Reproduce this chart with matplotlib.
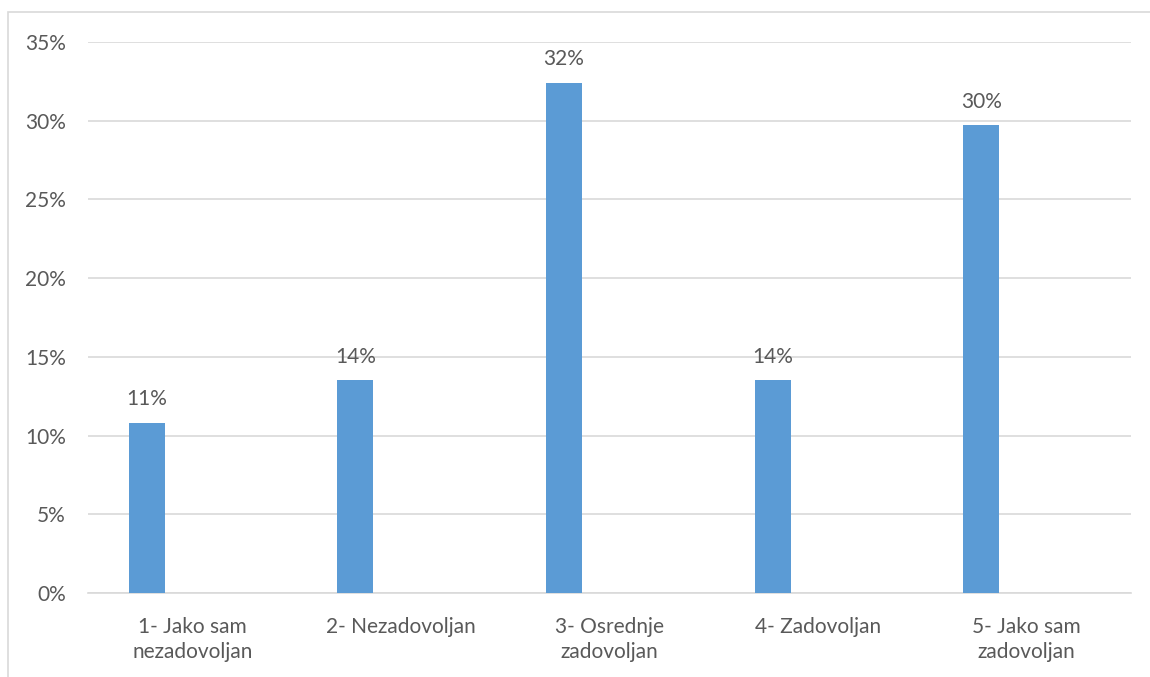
import matplotlib.pyplot as plt
from matplotlib.patches import Rectangle
from matplotlib.ticker import FuncFormatter

categories = ['1- Jako sam\nnezadovoljan', '2- Nezadovoljan', '3- Osrednje\nzadovoljan',
              '4- Zadovoljan', '5- Jako sam\nzadovoljan']
values = [10.8, 13.5, 32.4, 13.5, 29.7]
value_labels = ['11%', '14%', '32%', '14%', '30%']

plt.rcParams['font.family'] = ['Lato', 'DejaVu Sans']
text_col = '#595959'

fig = plt.figure(figsize=(11.5, 6.77), dpi=100)
# light frame around chart area (cut off at right/bottom in the original)
fig.patches.append(Rectangle((8 / 1150, -0.1), 1.2, 1.1 - 12 / 677, transform=fig.transFigure,
                             fill=False, edgecolor='#d9d9d9', linewidth=1.2))
ax = fig.add_axes([88 / 1150, 1 - 593 / 677, (1131 - 88) / 1150, (593 - 42) / 677])

x = list(range(len(categories)))
xpos = [i - 0.218 for i in x]
bars = ax.bar(xpos, values, width=0.172, color='#5b9bd5', zorder=3)
for b, lab in zip(bars, value_labels):
    ax.annotate(lab, (b.get_x() + b.get_width() / 2, b.get_height()), xytext=(0, 10),
                textcoords='offset points', ha='center', va='bottom', fontsize=15, color=text_col)

ax.set_xlim(-0.5, 4.5)
ax.set_ylim(0, 35)
ax.set_yticks(range(0, 36, 5))
ax.yaxis.set_major_formatter(FuncFormatter(lambda v, p: f'{int(v)}%'))
ax.set_xticks(x)
ax.set_xticklabels(categories, linespacing=1.35)
ax.grid(axis='y', color='#d9d9d9', linewidth=1.2, zorder=0)
for s in ['top', 'right', 'left']:
    ax.spines[s].set_visible(False)
ax.spines['bottom'].set_color('#d9d9d9')
ax.spines['bottom'].set_linewidth(1.2)
ax.tick_params(length=0, labelsize=15, colors=text_col)
ax.tick_params(axis='y', pad=16)
ax.tick_params(axis='x', pad=17)

fig.savefig('out.png', dpi=100)
